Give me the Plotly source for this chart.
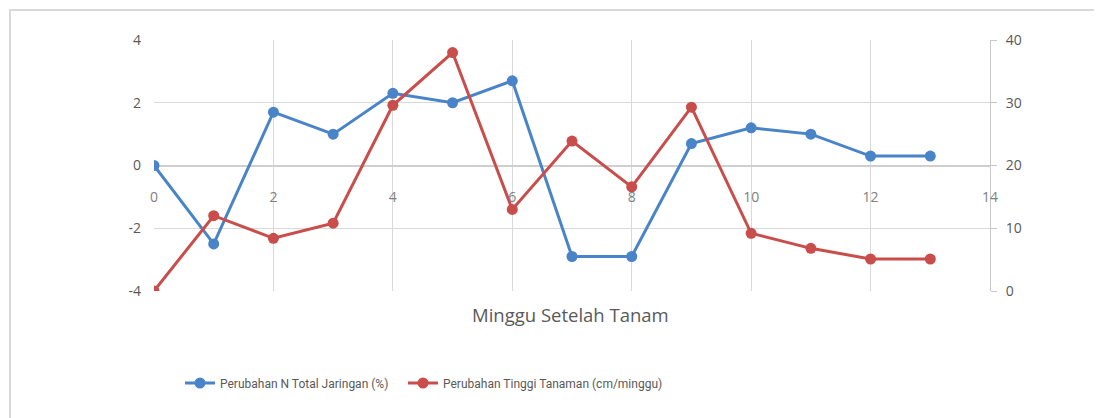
import plotly.graph_objects as go

weeks = list(range(14))
n_total = [0.0, -2.5, 1.7, 1.0, 2.3, 2.0, 2.7, -2.9, -2.9, 0.7, 1.2, 1.0, 0.3, 0.3]
tinggi = [0.0, 12.0, 8.4, 10.8, 29.6, 38.0, 13.0, 23.9, 16.6, 29.3, 9.2, 6.8, 5.1, 5.1]
x_ticks = [0, 2, 4, 6, 8, 10, 12, 14]
y1_ticks = [-4, -2, 0, 2, 4]
y2_ticks = [0, 10, 20, 30, 40]
name_n = "Perubahan N Total Jaringan (%)"
name_t = "Perubahan Tinggi Tanaman (cm/minggu)"
x_title = "Minggu Setelah Tanam"

BLUE = "#4A84C8"
RED = "#C94D4A"
GRID = "#d9d9d9"
TXT = "#595959"
FONT = "Open Sans, sans-serif"

# page has an 8px body margin; figure coordinates = screen - 8
OFF = 8
W, H = 1102 - OFF, 418 - OFF
L, R, T, B = 154 - OFF, 990 - OFF, 40 - OFF, 291 - OFF


def px_x(p):
    return (p - OFF - L) / (R - L)


def px_y(p):
    return (B - (p - OFF)) / (B - T)


fig = go.Figure()
fig.add_trace(go.Scatter(x=weeks, y=n_total, name=name_n, mode="lines+markers",
                         line=dict(color=BLUE, width=3), marker=dict(color=BLUE, size=11),
                         yaxis="y", legend="legend"))
fig.add_trace(go.Scatter(x=weeks, y=tinggi, name=name_t, mode="lines+markers",
                         line=dict(color=RED, width=3), marker=dict(color=RED, size=11),
                         yaxis="y2", legend="legend2"))

leg_font = dict(family="Roboto, sans-serif", size=12, color=TXT)

fig.update_layout(
    width=W, height=H,
    margin=dict(l=L, r=W - R, t=T, b=H - B),
    paper_bgcolor="white", plot_bgcolor="white",
    font=dict(family=FONT, color=TXT, size=14),
    xaxis=dict(range=[0, 14], tickvals=x_ticks, showgrid=True, gridcolor=GRID, gridwidth=1,
               zeroline=False, showline=False, ticks="", anchor="free", position=0.5,
               ticklabelstandoff=21, tickfont=dict(size=14, color="#808080")),
    yaxis=dict(range=[-4, 4], tickvals=y1_ticks, ticktext=[str(v) for v in y1_ticks],
               showgrid=True, gridcolor=GRID, gridwidth=1,
               zeroline=True, zerolinecolor="#cfcfcf", zerolinewidth=2, showline=False,
               ticks="", ticklabelstandoff=12, tickfont=dict(size=14, color=TXT)),
    yaxis2=dict(range=[0, 40], tickvals=y2_ticks, overlaying="y", side="right",
                showgrid=False, zeroline=False, showline=True, linecolor="#c8c8c8", linewidth=1,
                ticks="outside", ticklen=6, tickcolor="#c8c8c8",
                ticklabelstandoff=6, tickfont=dict(size=14, color=TXT)),
    legend=dict(orientation="h", x=px_x(180), xanchor="left", y=px_y(383), yanchor="middle",
                font=leg_font, bgcolor="rgba(0,0,0,0)"),
    legend2=dict(orientation="h", x=px_x(403), xanchor="left", y=px_y(383), yanchor="middle",
                 font=leg_font, bgcolor="rgba(0,0,0,0)"),
    showlegend=True,
)

fig.add_annotation(text=x_title, xref="paper", yref="paper", x=px_x(570), y=px_y(314),
                   showarrow=False, font=dict(size=18.5, color=TXT), xanchor="center", yanchor="middle")

fig.add_shape(type="rect", xref="paper", yref="paper",
              x0=px_x(10), y0=px_y(470), x1=px_x(1170), y1=px_y(10),
              line=dict(color="#d9d9d9", width=2), layer="below")

fig.write_html("out.html")
